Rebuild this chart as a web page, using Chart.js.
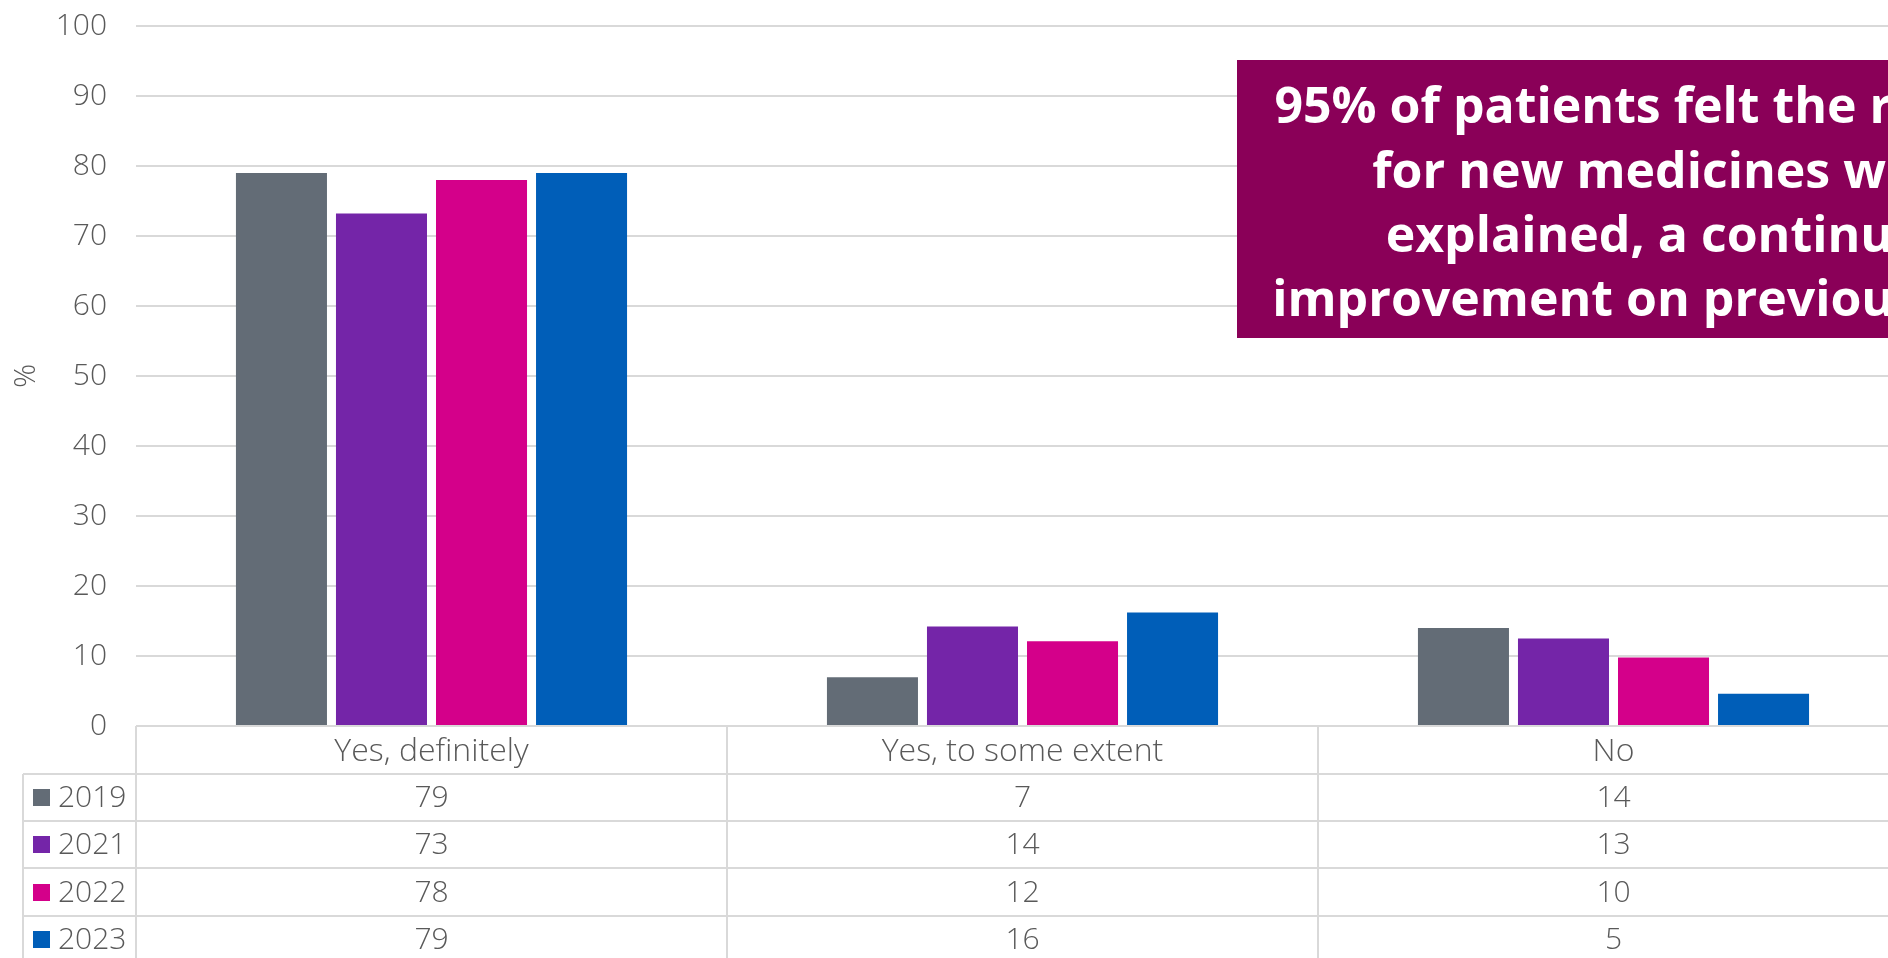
<!DOCTYPE html>
<html>
<head>
<meta charset="utf-8">
<script src="https://cdn.jsdelivr.net/npm/chart.js@4/dist/chart.umd.min.js"></script>
<style>
  html, body { margin: 0; padding: 0; background: #ffffff; overflow: hidden; }
  #wrap { width: 1888px; height: 958px; overflow: hidden; position: relative; }
  canvas { display: block; }
</style>
</head>
<body>
<div id="wrap"><canvas id="c" width="1910" height="958" style="width:1910px;height:958px"></canvas></div>
<script>
// ---- data ----
const categories = ['Yes, definitely', 'Yes, to some extent', 'No'];
const years = ['2019', '2021', '2022', '2023'];
const values2019 = [79, 6.95, 14];
const values2021 = [73.2, 14.2, 12.5];
const values2022 = [78, 12.1, 9.8];
const values2023 = [79, 16.2, 4.6];
const table2019 = ['79', '7', '14'];
const table2021 = ['73', '14', '13'];
const table2022 = ['78', '12', '10'];
const table2023 = ['79', '16', '5'];
const yTicks = [0, 10, 20, 30, 40, 50, 60, 70, 80, 90, 100];
const calloutLines = [
  '95% of patients felt the reasons',
  'for new medicines were',
  'explained, a continued',
  'improvement on previous years'
];

// ---- styles ----
const colors = ['#636c76', '#7425a8', '#d4008a', '#005eb8'];
const textGray = '#595959';
const lineGray = '#d9d9d9';
const FONT = '"Open Sans", Lato, sans-serif';

const seriesValues = [values2019, values2021, values2022, values2023];
const tableRows = [table2019, table2021, table2022, table2023];

const tablePlugin = {
  id: 'dataTable',
  afterDraw(chart) {
    const ctx = chart.ctx;
    const x = chart.scales.x;
    const area = chart.chartArea;
    const W = chart.width, H = chart.height;
    const catW = (x.right - x.left) / categories.length;
    const headerH = 48;
    const rowH = 47.2;
    const legendLeft = 23;
    ctx.save();
    ctx.strokeStyle = lineGray;
    ctx.lineWidth = 2;
    // axis line
    ctx.beginPath();
    ctx.moveTo(x.left, area.bottom);
    ctx.lineTo(W, area.bottom);
    ctx.stroke();
    // horizontal row lines
    for (let i = 0; i <= years.length; i++) {
      const yy = Math.round(area.bottom + headerH + i * rowH);
      ctx.beginPath();
      ctx.moveTo(legendLeft, yy);
      ctx.lineTo(W, yy);
      ctx.stroke();
    }
    // vertical lines
    for (let i = 0; i <= categories.length; i++) {
      const xx = Math.round(x.left + i * catW);
      ctx.beginPath();
      ctx.moveTo(xx, area.bottom);
      ctx.lineTo(xx, H);
      ctx.stroke();
    }
    ctx.beginPath();
    ctx.moveTo(legendLeft, area.bottom + headerH);
    ctx.lineTo(legendLeft, H);
    ctx.stroke();

    // rows
    ctx.textBaseline = 'middle';
    ctx.font = '300 30px ' + FONT;
    for (let r = 0; r < years.length; r++) {
      const cy = area.bottom + headerH + (r + 0.5) * rowH;
      ctx.fillStyle = colors[r];
      ctx.fillRect(33, Math.round(cy - 8.5), 17, 17);
      ctx.fillStyle = textGray;
      ctx.textAlign = 'left';
      ctx.fillText(years[r], 58, cy + 1);
      ctx.textAlign = 'center';
      for (let c = 0; c < categories.length; c++) {
        ctx.fillText(tableRows[r][c], x.getPixelForValue(c), cy + 1);
      }
    }

    // callout box
    const bx = 1237, by = 60, bw = 866, bh = 278;
    ctx.fillStyle = '#8a0058';
    ctx.fillRect(bx, by, bw, bh);
    ctx.fillStyle = '#ffffff';
    ctx.font = 'bold 50px ' + FONT;
    ctx.textAlign = 'center';
    ctx.textBaseline = 'alphabetic';
    const cx = bx + bw / 2;
    const baselines = [123, 188, 252, 316];
    calloutLines.forEach((t, i) => ctx.fillText(t, cx, baselines[i]));
    ctx.restore();
  }
};

new Chart(document.getElementById('c'), {
  type: 'bar',
  data: {
    labels: categories,
    datasets: years.map((y, i) => ({
      label: y,
      data: seriesValues[i],
      backgroundColor: colors[i],
      borderWidth: 0,
      barPercentage: 0.91,
      categoryPercentage: 0.677
    }))
  },
  options: {
    responsive: false,
    devicePixelRatio: 1,
    animation: false,
    layout: { padding: { top: 26, right: 1, bottom: 0, left: 0 } },
    plugins: { legend: { display: false }, tooltip: { enabled: false } },
    scales: {
      x: {
        grid: { display: false, drawTicks: false },
        border: { display: false },
        ticks: { color: textGray, font: { family: FONT, size: 32, weight: '300' }, padding: 7, maxRotation: 0, autoSkip: false },
        afterFit(scale) { scale.height = 232; scale.paddingLeft = 0; scale.paddingRight = 0; }
      },
      y: {
        min: 0, max: 100,
        afterBuildTicks(scale) { scale.ticks = yTicks.map(v => ({ value: v })); },
        grid: { color: lineGray, lineWidth: 2, drawTicks: false },
        border: { display: false },
        ticks: { color: textGray, font: { family: FONT, size: 30, weight: '300' }, padding: 29 },
        title: { display: true, text: '%', color: textGray, font: { family: FONT, size: 30, weight: '300' }, padding: { top: 8, bottom: 0 } },
        afterFit(scale) { scale.width = 136; scale.paddingTop = 0; scale.paddingBottom = 0; }
      }
    }
  },
  plugins: [tablePlugin]
});
</script>
</body>
</html>
